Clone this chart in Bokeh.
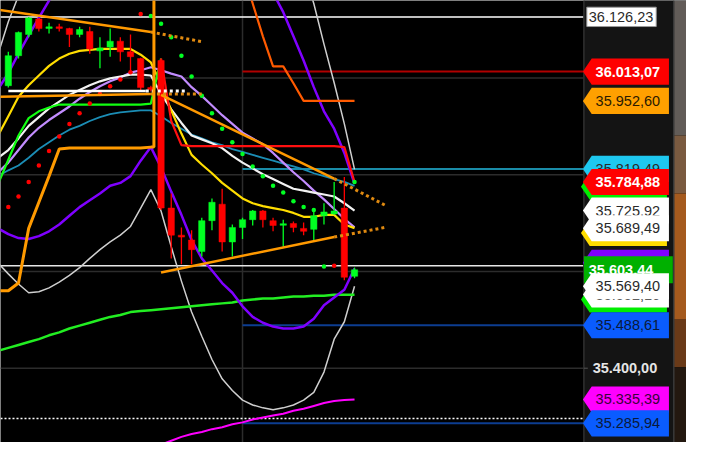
from bokeh.plotting import figure
from bokeh.models import Range1d
from bokeh.embed import file_html
from bokeh.resources import INLINE
from bokeh.core.properties import value

# ---------------- data (prices) ----------------
idx = list(range(35))
opens = [35984, 36046, 36090, 36122, 36103, 36105, 36102, 36090, 36096, 36056, 36064, 36076, 36054, 36040, 35980,
         36036, 35731, 35675, 35665, 35641, 35705, 35739, 35661, 35691, 35707, 35725, 35705, 35696, 35699, 35689,
         35687, 35715, 35719, 35731, 35590]
highs = [36054, 36096, 36126, 36124, 36114, 36112, 36104, 36106, 36106, 36084, 36102, 36084, 36090, 36042, 35984,
         36040, 35761, 35691, 35685, 35711, 35751, 35771, 35697, 35711, 35727, 35727, 35711, 35707, 35703, 35701,
         35731, 35741, 35785, 35795, 35608]
lows = [35980, 36040, 36084, 36096, 36092, 36096, 36064, 36084, 36050, 36020, 36044, 36034, 36011, 35975, 35972,
        35727, 35627, 35615, 35615, 35631, 35685, 35641, 35631, 35667, 35695, 35691, 35683, 35651, 35681, 35675,
        35661, 35697, 35717, 35582, 35586]
closes = [36046, 36094, 36124, 36102, 36105, 36103, 36090, 36100, 36060, 36062, 36076, 36054, 36044, 35980, 35976,
          35731, 35675, 35671, 35645, 35705, 35743, 35661, 35691, 35707, 35725, 35707, 35695, 35698, 35691, 35683,
          35715, 35723, 35725, 35588, 35603.44]

ind_idx = list(range(-1, 35))
yellow_ma = [35881, 35921, 35961, 35985, 36005, 36025, 36040, 36050, 36056, 36058, 36060, 36060, 36060, 36060, 36048,
             36032, 35987, 35933, 35885, 35841, 35821, 35803, 35783, 35767, 35751, 35741, 35735, 35731, 35727, 35721,
             35713, 35713, 35717, 35717, 35697, 35689.49]
white_ma = [35835, 35851, 35875, 35901, 35919, 35937, 35951, 35965, 35975, 35985, 35993, 35999, 36003, 36007, 36007,
            36005, 35967, 35935, 35907, 35881, 35873, 35865, 35855, 35839, 35825, 35813, 35801, 35791, 35781, 35771,
            35767, 35763, 35759, 35755, 35741, 35725.92]
lavender_ma = [35805, 35825, 35851, 35877, 35897, 35913, 35927, 35941, 35957, 35971, 35983, 35993, 36001, 36011, 36016,
               36022, 36016, 36009, 36003, 35981, 35963, 35943, 35923, 35905, 35887, 35875, 35863, 35845, 35825, 35805,
               35787, 35767, 35749, 35729, 35709, 35691]
teal_ma = [35797, 35809, 35819, 35835, 35853, 35867, 35881, 35893, 35901, 35911, 35919, 35925, 35929, 35931, 35933,
           35933, 35921, 35907, 35895, 35883, 35875, 35867, 35861, 35853, 35847, 35841, 35835, 35829, 35823, 35817,
           35811, 35803, 35797, 35791, 35785, 35777]
green_slow = [35436, 35442, 35448, 35454, 35460, 35468, 35474, 35482, 35488, 35494, 35500, 35506, 35510, 35516, 35518,
              35520, 35522, 35524, 35526, 35528, 35530, 35532, 35534, 35536, 35540, 35542, 35544, 35544, 35546, 35548,
              35548, 35550, 35550, 35552, 35552, 35552]
purple_low = [35689, 35677, 35669, 35667, 35673, 35683, 35697, 35715, 35733, 35747, 35761, 35777, 35783, 35797, 35829,
              35857, 35815, 35765, 35717, 35665, 35627, 35602, 35576, 35556, 35528, 35506, 35494, 35486, 35482, 35482,
              35486, 35502, 35530, 35546, 35562, 35606]
purple_up = [35977, 36010, 36050, 36088, 36124, 36160, 36200, 36240, 36280, 36320, 36350, 36380, 36400, 36420, 36440,
             36460, 36480, 36490, 36490, 36480, 36470, 36460, 36420, 36380, 36340, 36290, 36230, 36176, 36136, 36086,
             36036, 35981, 35931, 35895, 35845, 35781]
gray_low = [35617, 35595, 35574, 35556, 35558, 35566, 35578, 35592, 35608, 35627, 35645, 35661, 35675, 35693, 35731,
            35769, 35725, 35651, 35580, 35516, 35466, 35418, 35378, 35354, 35334, 35324, 35318, 35314, 35318, 35324,
            35334, 35350, 35392, 35460, 35496, 35569.40]
gray_up = [36050, 36116, 36170, 36230, 36280, 36320, 36350, 36370, 36390, 36400, 36410, 36420, 36425, 36430, 36440,
           36450, 36460, 36470, 36480, 36490, 36500, 36500, 36490, 36470, 36440, 36410, 36370, 36330, 36290, 36250,
           36220, 36154, 36070, 35990, 35905, 35811]
green_fast_idx = list(range(-1, 16))
green_fast = [35781, 35831, 35881, 35917, 35931, 35939, 35945, 35945, 35945, 35945, 35945, 35945, 35945, 35945, 35945,
              35947, 36040]
red_line_idx = list(range(15, 35))
red_line = [36040, 35911, 35861, 35859, 35859, 35859, 35859, 35859, 35859, 35859, 35859, 35859, 35859, 35859, 35859,
            35859, 35859, 35859, 35857, 35785]
magenta_idx = list(range(14, 35))
magenta_ma = [35234, 35242, 35250, 35258, 35264, 35268, 35274, 35278, 35284, 35288, 35294, 35298, 35302, 35306, 35312,
              35316, 35322, 35328, 35332, 35334, 35335.39]
dorange_idx = list(range(23, 35))
dorange_step = [36220, 36154, 36086, 36024, 36024, 35989, 35952.60, 35952.60, 35952.60, 35952.60, 35952.60, 35952.60]
ostep_idx = [-1, 0, 1, 2, 3, 4, 5, 6, 7, 8, 9, 10, 11, 12, 13, 14, 14.3, 14.3]
ostep_val = [35560, 35560, 35576, 35689, 35743, 35797, 35853, 35855, 35855, 35855, 35855, 35855, 35855, 35855, 35855,
             35857, 35857, 36400]

sar_red_idx = [0, 1, 2, 3, 4, 5, 6, 7, 8, 9, 10, 11, 12, 13, 32]
sar_red = [35733, 35755, 35785, 35819, 35849, 35879, 35905, 35927, 35947, 35967, 35983, 35997, 36012, 36132, 35612]
sar_green_idx = [14, 15, 16, 17, 18, 19, 20, 21, 22, 23, 24, 25, 26, 27, 28, 29, 30, 31, 34]
sar_green = [36128, 36112, 36084, 36046, 36003, 35963, 35927, 35895, 35867, 35843, 35817, 35797, 35777, 35763, 35745,
             35733, 35727, 35610, 35785]

# trend lines: (x0, y0, x1, y1) solid, then dotted extension
trend_solid = [(-1, 36141, 14, 36095), (-1, 35961, 14, 35967), (15, 35965, 32, 35792), (15, 35598, 32, 35671)]
trend_dotted = [(14, 36095, 19, 36075), (14, 35967, 19, 35967), (32, 35792, 37, 35737), (32, 35671, 37, 35691)]
mid_white_level = 35973
mid_white_span = (0, 13.5, 17.5)

levels_right = [36013.07, 35812.0, 35488.61, 35285.94]
levels_right_colors = ["#b00000", "#1a8ca8", "#0c3d91", "#0c3d91"]
levels_start = 23
level_top = 36126.23
level_white2 = 35612
level_dotted = 35296
grid_prices = [36000, 35800, 35600, 35400]
grid_vertical = 23

tag_price = [35812.0, 35784.88, 35725.92, 35689.49, 35618.0, 35603.44, 35552.16, 35569.40, 35488.61, 35335.39,
             35285.94, 35952.60, 36013.07]
tag_text = ["35.819,49", "35.784,88", "35.725,92", "35.689,49", "", "35.603,44", "35.552,16", "35.569,40",
            "35.488,61", "35.335,39", "35.285,94", "35.952,60", "36.013,07"]
tag_fill = ["#1ec8f0", "#ff0000", "#ffffff", "#ffffff", "#8000ff", "#00b000", "#ffffff", "#ffffff", "#0a5cff",
            "#ff00ff", "#0a5cff", "#ffa000", "#ff0000"]
tag_shadow = [None, "#00ee00", None, "#ffdd00", None, None, "#00ee00", None, None, None, None, None, None]
tag_tcolor = ["#2a2a2a", "#ffffff", "#2a2a2a", "#2a2a2a", "#ffffff", "#ffffff", "#2a2a2a", "#2a2a2a", "#0a1a3a",
              "#3a003a", "#0a1a3a", "#2a1a00", "#ffffff"]
tag_bold = [False, True, False, False, False, True, False, False, False, False, False, False, True]
tag_box = [False, False, False, False, False, True, False, False, False, False, False, False, False]
axis_tick = 35400
axis_tick_text = "35.400,00"
top_label_text = "36.126,23"

# ---------------- layout helpers (reference pixel -> data) ----------------
X0, DX = 8.0, 10.42
Y_TOP, DY = 36160.1, 1.995
W_REF, H_REF = 702, 458
FRAME_R = 597


def px_x(px):
    return (px - X0) / DX


def px_h(h):
    return h * DY


def py(ypx):
    return Y_TOP - ypx * DY


Y_BOT = Y_TOP - H_REF * DY
p = figure(width=686, height=442, x_range=Range1d(px_x(0), px_x(W_REF)), y_range=Range1d(Y_BOT, Y_TOP),
           output_backend="svg", toolbar_location=None, x_axis_location=None, y_axis_location=None,
           min_border=0, background_fill_color="#000000", border_fill_color="#000000", outline_line_color=None)
p.grid.visible = False

xl, xr = px_x(0), px_x(FRAME_R)
FONT = value("Liberation Sans")

# grid
p.segment(x0=[xl] * len(grid_prices), x1=[xr] * len(grid_prices), y0=grid_prices, y1=grid_prices,
          line_color="#2c2c2c", line_width=1.5)
p.segment(x0=[grid_vertical], x1=[grid_vertical], y0=[Y_BOT], y1=[Y_TOP], line_color="#2c2c2c", line_width=1.5)

# horizontal levels
p.segment(x0=[levels_start] * 4, x1=[xr] * 4, y0=levels_right, y1=levels_right, line_color=levels_right_colors,
          line_width=2)
p.segment(x0=[xl], x1=[px_x(600)], y0=[level_top], y1=[level_top], line_color="#ffffff", line_width=1.5)
p.segment(x0=[xl], x1=[xr], y0=[level_white2], y1=[level_white2], line_color="#e6e6e6", line_width=1.5)
p.segment(x0=[xl], x1=[xr], y0=[level_dotted], y1=[level_dotted], line_color="#ffffff", line_width=1.5,
          line_dash="2 2")

# indicators
p.line(ind_idx, gray_low, line_color="#cfcfcf", line_width=1.5)
p.line(ind_idx, gray_up, line_color="#cfcfcf", line_width=1.5)
p.line(ind_idx, green_slow, line_color="#22ee22", line_width=2.5)
p.line(magenta_idx, magenta_ma, line_color="#ff00ff", line_width=2)
p.line(ind_idx, purple_low, line_color="#7f00ff", line_width=2.5)
p.line(ind_idx, purple_up, line_color="#7f00ff", line_width=2.5)
p.line(ind_idx, teal_ma, line_color="#1b8db5", line_width=1.8)
p.line(ind_idx, lavender_ma, line_color="#c28cff", line_width=2.2)
p.line(ind_idx, white_ma, line_color="#f2f2f2", line_width=2.2)
p.line(ind_idx, yellow_ma, line_color="#ffdd00", line_width=2.2)
p.line(green_fast_idx, green_fast, line_color="#11ff11", line_width=2.2)
p.line(red_line_idx, red_line, line_color="#ff1010", line_width=2.2)
p.line(dorange_idx, dorange_step, line_color="#ff5a00", line_width=2.2)

# candles
cols = ["#00ff22" if c >= o else "#ff0000" for o, c in zip(opens, closes)]
tops, bots = [], []
for o, c in zip(opens, closes):
    t, b = max(o, c), min(o, c)
    if t - b < 3:
        m = (t + b) / 2
        t, b = m + 1.6, m - 1.6
    tops.append(t)
    bots.append(b)
p.segment(x0=idx, x1=idx, y0=lows, y1=highs, line_color=cols, line_width=1.3)
p.vbar(x=idx, width=0.62, top=tops, bottom=bots, fill_color=cols, line_color=cols, line_width=0.5)

# SAR dots
p.scatter(sar_red_idx, sar_red, size=4.5, fill_color="#ff0000", line_color=None)
p.scatter(sar_green_idx, sar_green, size=4.5, fill_color="#00ff22", line_color=None)

# trend lines
for (a, b, c, d) in trend_solid:
    p.line([a, c], [b, d], line_color="#ff9900", line_width=2.5)
for (a, b, c, d) in trend_dotted:
    p.line([a, c], [b, d], line_color="#e08a10", line_width=3, line_dash="3 3")
p.line([mid_white_span[0], mid_white_span[1]], [mid_white_level] * 2, line_color="#ffffff", line_width=2.5)
p.line([mid_white_span[1], mid_white_span[2]], [mid_white_level] * 2, line_color="#ffffff", line_width=3,
       line_dash="3 3")
p.line(ostep_idx, ostep_val, line_color="#ff9a00", line_width=3)

# right price panel
p.quad(left=[px_x(FRAME_R)], right=[px_x(689)], bottom=[Y_BOT], top=[Y_TOP], fill_color="#141414", line_color=None)
p.segment(x0=[px_x(FRAME_R)], x1=[px_x(FRAME_R)], y0=[Y_BOT], y1=[Y_TOP], line_color="#303030", line_width=1.5)
strip = [(0, 140, "#625c58"), (140, 200, "#7a5a40"), (200, 330, "#a55a1e"), (330, 380, "#6a3a18"),
         (380, 458, "#231810")]
for (a, b, c) in strip:
    p.quad(left=[px_x(689)], right=[px_x(W_REF)], top=[py(a)], bottom=[py(b)], fill_color=c, line_color=None)
p.segment(x0=[px_x(689)], x1=[px_x(689)], y0=[Y_BOT], y1=[Y_TOP], line_color="#3a3a3a", line_width=1.5)


def tag_shape(price, box, dx=0.0, dy=0.0):
    if box:
        h = px_h(14)
        yc = price - px_h(dy)
        l, r = px_x(597 + dx), px_x(688 + dx)
        return [l, r, r, l], [yc + h, yc + h, yc - h, yc - h]
    h = px_h(13.5)
    yc = price - px_h(dy)
    tip, sh, r = px_x(596 + dx), px_x(605 + dx), px_x(684 + dx)
    return [tip, sh, r, r, sh], [yc, yc + h, yc + h, yc - h, yc - h]


for i in range(len(tag_price)):
    if tag_shadow[i]:
        xs, ys = tag_shape(tag_price[i], tag_box[i], dx=-2, dy=5)
        p.patch(xs, ys, fill_color=tag_shadow[i], line_color=None)
    xs, ys = tag_shape(tag_price[i], tag_box[i])
    p.patch(xs, ys, fill_color=tag_fill[i], line_color=None)
    if tag_text[i]:
        tx = px_x(602) if tag_box[i] else px_x(609)
        p.text(x=[tx], y=[tag_price[i]], text=[tag_text[i]], text_font=FONT, text_font_size="14.5px",
               text_font_style="bold" if tag_bold[i] else "normal", text_color=tag_tcolor[i],
               text_baseline="middle", text_align="left")

# top white label box
p.quad(left=[px_x(600)], right=[px_x(671)], top=[level_top + px_h(10)], bottom=[level_top - px_h(10)],
       fill_color="#ffffff", line_color="#9a9a9a", line_width=1)
p.text(x=[px_x(602)], y=[level_top], text=[top_label_text], text_font=FONT, text_font_size="14.5px",
       text_color="#2a2a2a", text_baseline="middle", text_align="left")

# axis tick text
p.segment(x0=[px_x(FRAME_R)], x1=[px_x(601)], y0=[axis_tick], y1=[axis_tick], line_color="#555555", line_width=1)
p.text(x=[px_x(606)], y=[axis_tick], text=[axis_tick_text], text_font=FONT, text_font_size="14.5px",
       text_font_style="bold", text_color="#e6e6e6", text_baseline="middle", text_align="left")

open("out.html", "w").write(file_html(p, INLINE))
